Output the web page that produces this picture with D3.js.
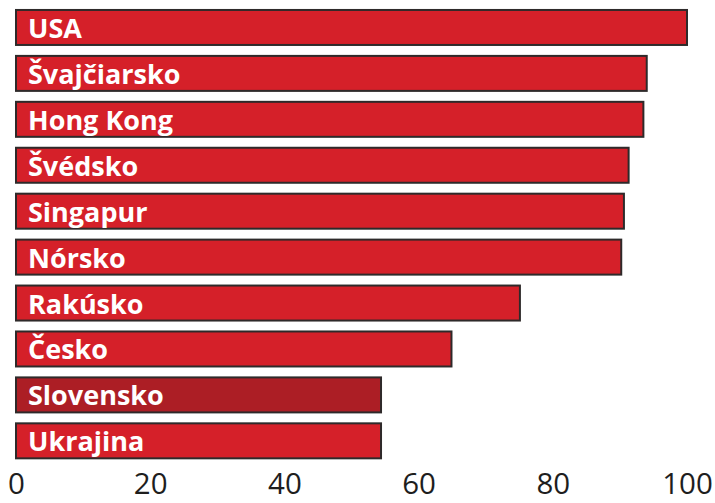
<!DOCTYPE html>
<html>
<head>
<meta charset="utf-8">
<script src="https://cdn.jsdelivr.net/npm/d3@7"></script>
<style>
  html, body { margin: 0; padding: 0; background: #ffffff; }
  svg { display: block; }
</style>
</head>
<body>
<svg id="chart" width="715" height="503"></svg>
<script>
const categories = ["USA", "Švajčiarsko", "Hong Kong", "Švédsko", "Singapur", "Nórsko", "Rakúsko", "Česko", "Slovensko", "Ukrajina"];
const values = [100, 94.0, 93.5, 91.3, 90.6, 90.2, 75.1, 64.9, 54.4, 54.4];
const highlighted = ["Slovensko"];
const tickValues = [0, 20, 40, 60, 80, 100];

const svg = d3.select("#chart");

const x = d3.scaleLinear().domain([0, 100]).range([16, 687]);
const y = d3.scaleBand()
  .domain(categories)
  .range([4.5, 463.8])
  .paddingInner(0.238)
  .paddingOuter(0.119);

const data = categories.map((c, i) => ({ name: c, value: values[i] }));

const bars = svg.append("g").selectAll("g.bar")
  .data(data)
  .join("g")
  .attr("class", "bar");

bars.append("rect")
  .attr("x", x(0))
  .attr("y", d => y(d.name))
  .attr("width", d => x(d.value) - x(0))
  .attr("height", y.bandwidth())
  .attr("fill", d => highlighted.includes(d.name) ? "#AC1E25" : "#D52029")
  .attr("stroke", "#2e2a2a")
  .attr("stroke-width", 2);

bars.append("text")
  .attr("x", 28)
  .attr("y", d => y(d.name) + y.bandwidth() / 2 + 10.5)
  .attr("fill", "#ffffff")
  .attr("font-family", "'Open Sans', sans-serif")
  .attr("font-weight", "bold")
  .attr("font-size", 27)
  .text(d => d.name);

const axis = d3.axisBottom(x)
  .tickValues(tickValues)
  .tickSize(0)
  .tickPadding(0)
  .tickFormat(d3.format("d"));

const gx = svg.append("g")
  .attr("transform", "translate(0,494)")
  .call(axis);
gx.select(".domain").remove();
gx.selectAll("text")
  .attr("dy", null)
  .attr("y", 0)
  .attr("fill", "#1e1e1e")
  .attr("font-family", "'Open Sans', sans-serif")
  .attr("font-size", 29.5);
</script>
</body>
</html>
